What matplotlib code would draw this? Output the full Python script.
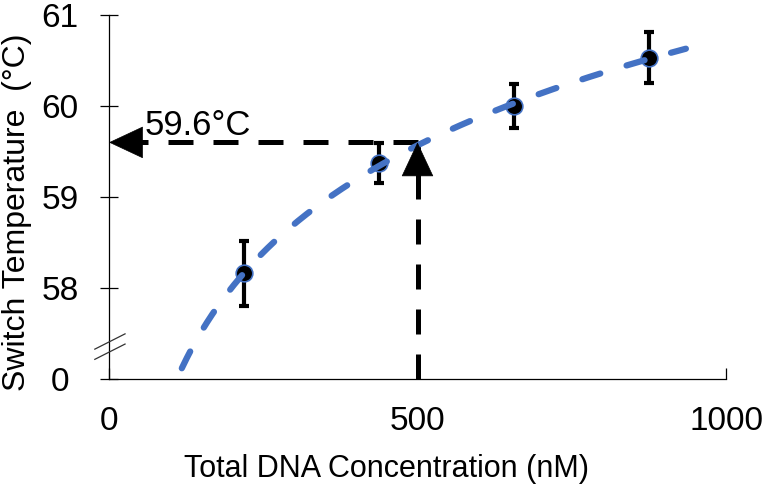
import numpy as np
import matplotlib
matplotlib.use("Agg")
import matplotlib.pyplot as plt

# ---------------- data ----------------
conc = [219, 438, 657, 876]                 # Total DNA concentration (nM)
temp = [58.16, 59.37, 60.00, 60.53]         # switch temperature (°C)
temp_err = [0.36, 0.22, 0.24, 0.28]
fit_range = [118, 935]                      # extent of log trendline
target_conc = 500
target_temp = 59.6
target_label = "59.6°C"

ytick_vals = [57, 58, 59, 60, 61]           # 57 is shown as "0" (axis break)
ytick_labels = ["0", "58", "59", "60", "61"]
xtick_vals = [0, 500, 1000]
xtick_labels = ["0", "500", "1000"]

# ---------------- figure ----------------
plt.rcParams['font.family'] = ['Liberation Sans', 'DejaVu Sans']
W, H = 766, 486
fig = plt.figure(figsize=(W / 100, H / 100), dpi=100)
ax = fig.add_axes([109 / W, (H - 379) / H, 617 / W, 364 / H])
ax.set_xlim(0, 1000)
ax.set_ylim(57, 61)

blue = '#4472C4'

# error bars and markers
ax.errorbar(conc, temp, yerr=temp_err, fmt='none', ecolor='black',
            elinewidth=3, capsize=3.8, capthick=3, zorder=3)
ax.plot(conc, temp, 'o', mfc='black', mec=blue, ms=12, mew=1.2, zorder=4)

# logarithmic trendline fitted to the data
a, b = np.polyfit(np.log(conc), temp, 1)
xf = np.linspace(fit_range[0], fit_range[1], 300)
ax.plot(xf, a * np.log(xf) + b, color=blue, lw=4.5, ls=(0, (3.0, 4.4)),
        solid_capstyle='round', dash_capstyle='round', zorder=5)

# dashed guide arrows
ax.plot([target_conc, 0], [target_temp, target_temp], color='black', lw=3.6,
        ls=(0, (5, 4)), dash_capstyle='butt', zorder=2)
ax.plot([target_conc, target_conc], [57, target_temp], color='black', lw=3.6,
        ls=(0, (5, 4)), dash_capstyle='butt', zorder=2)
head = dict(arrowstyle='-|>,head_length=23.5,head_width=11', color='black',
            lw=0.5, mutation_scale=1, shrinkA=0, shrinkB=0)
ax.annotate('', xy=(0, target_temp), xytext=(24, 0), textcoords='offset points',
            arrowprops=head, zorder=6, annotation_clip=False)
ax.annotate('', xy=(target_conc, target_temp), xytext=(0, -24),
            textcoords='offset points', arrowprops=head, zorder=6)
ax.text(58, 59.68, target_label, fontsize=25, ha='left', va='baseline')

# axes styling
for s in ['top', 'right']:
    ax.spines[s].set_visible(False)
for s in ['left', 'bottom']:
    ax.spines[s].set_linewidth(0.9)
    ax.spines[s].set_color('black')

ax.set_yticks(ytick_vals)
ax.set_yticklabels(ytick_labels)
ax.set_xticks(xtick_vals)
ax.set_xticklabels(xtick_labels)
ax.tick_params(axis='y', direction='inout', length=13, width=0.9,
               labelsize=24, pad=28.8)
for t in ax.get_yticklabels():
    t.set_horizontalalignment('center')
ax.tick_params(axis='x', direction='in', length=8, width=0.9,
               labelsize=24, pad=19.5)

# axis-break marks
for dy in (0.0, -0.028):
    ax.plot([-0.023, 0.026], [0.082 + dy, 0.124 + dy], transform=ax.transAxes,
            color='#333333', lw=0.9, clip_on=False, zorder=7)

# axis titles
fig.text(25 / W, 1 - 212 / H, "Switch Temperature  (°C)", fontsize=23,
         rotation=90, rotation_mode='anchor', ha='center', va='baseline')
fig.text(387 / W, (H - 477) / H, "Total DNA Concentration (nM)", fontsize=22,
         ha='center', va='baseline')

fig.savefig('out.png', dpi=100)
